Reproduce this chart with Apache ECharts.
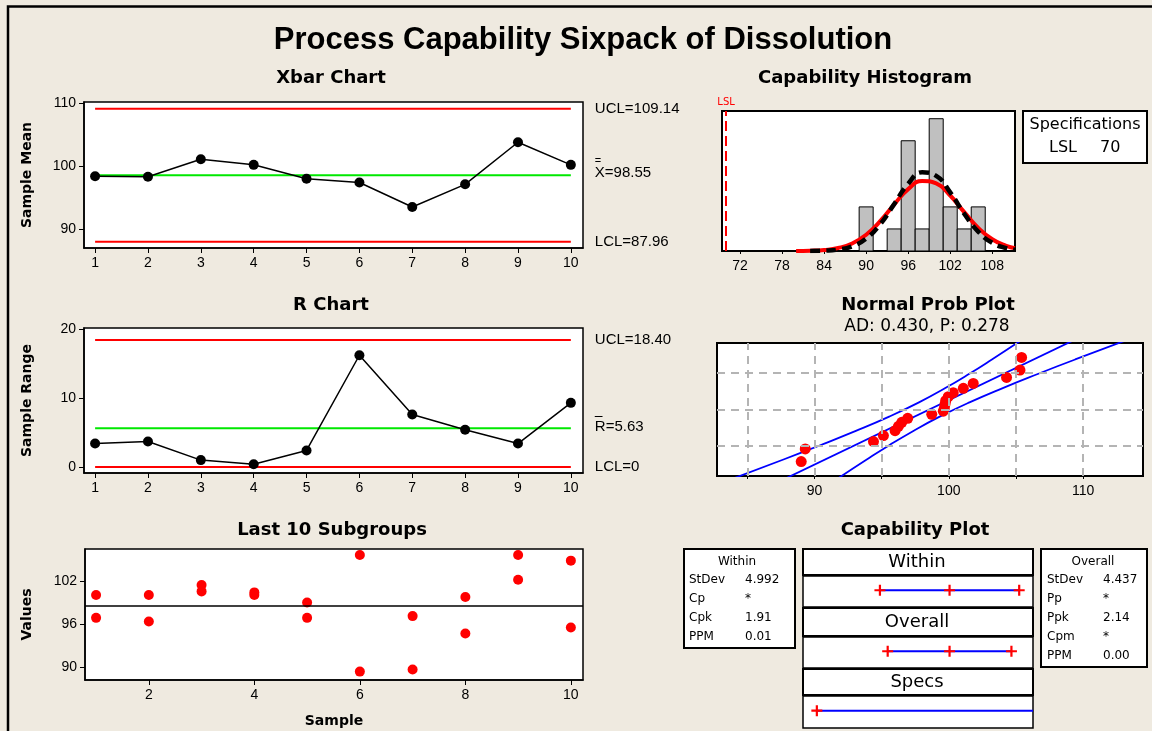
<!DOCTYPE html>
<html>
<head>
<meta charset="utf-8">
<title>Process Capability Sixpack</title>
<script src="https://cdn.jsdelivr.net/npm/echarts@6/dist/echarts.min.js"></script>
<style>html,body{margin:0;padding:0;background:#EFEAE0;}</style>
</head>
<body>
<div id="main" style="width:1152px;height:731px;"></div>
<script>
// data
var samples = [1, 2, 3, 4, 5, 6, 7, 8, 9, 10];
var evenSamples = [2, 4, 6, 8, 10];
var xbarValues = [98.4, 98.3, 101.1, 100.2, 98.0, 97.4, 93.5, 97.1, 103.8, 100.2];
var xbarLimits = [109.14, 98.55, 87.96];   // UCL, Xbarbar, LCL
var rValues = [3.4, 3.7, 1.0, 0.4, 2.4, 16.2, 7.6, 5.4, 3.4, 9.3];
var rLimits = [18.40, 5.63, 0];            // UCL, Rbar, LCL
var subgroupHigh = [100.05, 100.05, 101.44, 100.42, 99.02, 105.63, 97.12, 99.77, 105.63, 104.84];
var subgroupLow = [96.88, 96.37, 100.56, 100.05, 96.88, 89.40, 89.68, 94.70, 102.19, 95.54];

var histBinLow = [89, 91, 93, 95, 97, 99, 101, 103, 105];
var histBinHigh = [91, 93, 95, 97, 99, 101, 103, 105, 107];
var histCounts = [2, 0, 1, 5, 1, 6, 2, 1, 2];
var histTicks = [72, 78, 84, 90, 96, 102, 108];
var withinCurveX = [80, 82, 84, 86, 88, 90, 92, 94, 96, 98, 100, 102, 104, 106, 108, 110, 111.25];
var withinCurveY = [0.003, 0.013, 0.046, 0.136, 0.343, 0.737, 1.352, 2.110, 2.806, 3.178, 3.065, 2.518, 1.761, 1.050, 0.533, 0.230, 0.126];
var overallCurveX = [82, 84, 86, 88, 90, 92, 94, 96, 98, 100, 102, 104, 106, 108, 110, 111.25];
var overallCurveY = [0.003, 0.017, 0.066, 0.213, 0.562, 1.210, 2.126, 3.050, 3.569, 3.410, 2.659, 1.692, 0.878, 0.372, 0.129, 0.060];
var lsl = 70;

var probX = [89.01, 89.31, 94.39, 95.13, 96.00, 96.25, 96.50, 96.94, 98.73, 99.59, 99.67, 99.72, 99.77, 99.96, 100.33, 101.08, 101.82, 104.30, 105.30, 105.42];
var probZ = [-1.82, -1.38, -1.12, -0.91, -0.74, -0.59, -0.45, -0.31, -0.17, -0.06, 0.06, 0.19, 0.31, 0.45, 0.59, 0.74, 0.91, 1.12, 1.38, 1.82];
var bandZ = [-2.4, -1.75, -1.25, -0.75, -0.25, 0.25, 0.75, 1.25, 1.75, 2.4];
var bandLeft = [84.02, 87.69, 90.43, 93.08, 95.56, 97.78, 99.74, 101.53, 103.21, 105.32];
var bandRight = [91.78, 93.89, 95.57, 97.36, 99.32, 101.54, 104.02, 106.67, 109.41, 113.08];
var fitX = [87.90, 109.20];
var fitZ = [-2.4, 2.4];
var probGridX = [85, 90, 95, 100, 105, 110];
var probGridZ = [-1.28, 0, 1.28];
var probTicks = [90, 100, 110];

var withinSpan = [83.57, 98.55, 113.53];
var overallSpan = [85.24, 98.55, 111.86];
var withinStatNames = ['StDev', 'Cp', 'Cpk', 'PPM'];
var withinStatValues = ['4.992', '*', '1.91', '0.01'];
var overallStatNames = ['StDev', 'Pp', 'Ppk', 'Cpm', 'PPM'];
var overallStatValues = ['4.437', '*', '2.14', '*', '0.00'];

var chart = echarts.init(document.getElementById('main'));

var tickLabel = {fontFamily: 'Liberation Sans', fontSize: 14, color: '#000', margin: 8};
var axisName = {fontFamily: 'DejaVu Sans', fontWeight: 'bold', fontSize: 14, color: '#000'};
var blackLine = {onZero: false, lineStyle: {color: '#000', width: 1.5}};
var crossSymbol = 'path://M4,0 H6 V4 H10 V6 H6 V10 H4 V6 H0 V4 H4 Z';

function pairs(xs, ys) {
    return xs.map(function (x, i) { return [x, ys[i]]; });
}

function valAxis(grid, min, max, ticks, opt) {
    var a = {
        type: 'value', gridIndex: grid, min: min, max: max,
        axisLine: blackLine,
        axisTick: {show: true, customValues: ticks, length: 5, lineStyle: {color: '#000'}},
        axisLabel: Object.assign({customValues: ticks}, tickLabel),
        splitLine: {show: false}
    };
    return Object.assign(a, opt || {});
}

function hiddenAxis(grid, min, max) {
    return {type: 'value', gridIndex: grid, min: min, max: max, show: false, axisLine: {onZero: false}, splitLine: {show: false}};
}

function limitSeries(xi, yi, value, color, label, offsetY) {
    return {
        type: 'line', xAxisIndex: xi, yAxisIndex: yi, z: 1,
        data: [[1, value], [10, value]],
        symbol: 'none', silent: true,
        lineStyle: {color: color, width: 2},
        endLabel: {
            show: true, formatter: label, distance: 24, offset: [0, offsetY || 0],
            fontFamily: 'Liberation Sans', fontSize: 15, color: '#000',
            rich: {
                o: {fontFamily: 'Liberation Sans', fontSize: 11, lineHeight: 7, color: '#000'},
                d: {fontFamily: 'Liberation Sans', fontSize: 14, lineHeight: 7, color: '#000'},
                t: {fontFamily: 'Liberation Sans', fontSize: 15, lineHeight: 16, color: '#000'}
            }
        }
    };
}

var grids = [
    {left: 84, top: 102, width: 499, height: 146},   // xbar
    {left: 84, top: 328, width: 499, height: 145},   // R
    {left: 85, top: 549, width: 498, height: 131},   // last 10
    {left: 722, top: 111, width: 293, height: 140},  // histogram
    {left: 717, top: 343, width: 426, height: 133},  // normal prob
    {left: 803, top: 576, width: 230, height: 31},   // within band
    {left: 803, top: 637, width: 230, height: 31},   // overall band
    {left: 803, top: 696, width: 230, height: 32}    // specs band
].map(function (g) {
    return Object.assign({show: true, backgroundColor: '#fff', borderColor: '#000', borderWidth: 1.5, containLabel: false}, g);
});
grids[3].borderWidth = 2;
grids[4].borderWidth = 2;

var capMin = 67.02, capMax = 116.5, bandLevel = 0.54;

var xAxes = [
    valAxis(0, 0.79, 10.23, samples),
    valAxis(1, 0.79, 10.23, samples),
    valAxis(2, 0.79, 10.23, evenSamples, {name: 'Sample', nameLocation: 'middle', nameGap: 34, nameTextStyle: axisName}),
    valAxis(3, 69.42, 111.25, histTicks, {axisTick: {show: true, customValues: histTicks, length: 3, lineStyle: {color: '#000'}}}),
    valAxis(4, 82.74, 114.46, probTicks, {axisTick: {show: true, customValues: probGridX, length: 3, lineStyle: {color: '#000'}}}),
    hiddenAxis(5, capMin, capMax),
    hiddenAxis(6, capMin, capMax),
    hiddenAxis(7, capMin, capMax)
];

var yAxes = [
    valAxis(0, 86.97, 110.2, [90, 100, 110], {name: 'Sample Mean', nameLocation: 'middle', nameGap: 50, nameTextStyle: axisName}),
    valAxis(1, -0.87, 20.15, [0, 10, 20], {name: 'Sample Range', nameLocation: 'middle', nameGap: 50, nameTextStyle: axisName}),
    valAxis(2, 88.23, 106.46, [90, 96, 102], {name: 'Values', nameLocation: 'middle', nameGap: 51, nameTextStyle: axisName}),
    {type: 'value', gridIndex: 3, min: 0, max: 6.35, axisLine: blackLine, axisTick: {show: false}, axisLabel: {show: false}, splitLine: {show: false}},
    {type: 'value', gridIndex: 4, min: -2.326, max: 2.326, axisLine: blackLine, axisTick: {show: false}, axisLabel: {show: false}, splitLine: {show: false}},
    hiddenAxis(5, 0, 1),
    hiddenAxis(6, 0, 1),
    hiddenAxis(7, 0, 1)
];

var gridLineStyle = {color: '#B4B4B4', width: 2, type: [8, 6]};

var series = [
    // Xbar chart
    limitSeries(0, 0, xbarLimits[0], '#FF0000', 'UCL=' + xbarLimits[0].toFixed(2)),
    limitSeries(0, 0, xbarLimits[1], '#00E800', '{o|=}\n{t|X=' + xbarLimits[1].toFixed(2) + '}', -6),
    limitSeries(0, 0, xbarLimits[2], '#FF0000', 'LCL=' + xbarLimits[2].toFixed(2)),
    {
        type: 'line', xAxisIndex: 0, yAxisIndex: 0, z: 3,
        data: pairs(samples, xbarValues),
        symbol: 'circle', symbolSize: 10,
        itemStyle: {color: '#000'}, lineStyle: {color: '#000', width: 1.5}
    },
    // R chart
    limitSeries(1, 1, rLimits[0], '#FF0000', 'UCL=' + rLimits[0].toFixed(2)),
    limitSeries(1, 1, rLimits[1], '#00E800', '{d|\u2013}\n{t|R=' + rLimits[1].toFixed(2) + '}', -4.5),
    limitSeries(1, 1, rLimits[2], '#FF0000', 'LCL=' + rLimits[2]),
    {
        type: 'line', xAxisIndex: 1, yAxisIndex: 1, z: 3,
        data: pairs(samples, rValues),
        symbol: 'circle', symbolSize: 10,
        itemStyle: {color: '#000'}, lineStyle: {color: '#000', width: 1.5}
    },
    // last 10 subgroups
    {
        type: 'scatter', xAxisIndex: 2, yAxisIndex: 2, z: 3,
        data: pairs(samples, subgroupHigh).concat(pairs(samples, subgroupLow)),
        symbolSize: 10, itemStyle: {color: '#FF0000', opacity: 1},
        markLine: {
            silent: true, symbol: ['none', 'none'], label: {show: false},
            lineStyle: {color: '#000', width: 1.5, type: 'solid'},
            data: [{yAxis: xbarLimits[1]}]
        }
    },
    // capability histogram
    {
        type: 'custom', xAxisIndex: 3, yAxisIndex: 3, z: 1,
        data: histBinLow.map(function (lo, i) { return [lo, histBinHigh[i], histCounts[i]]; }),
        encode: {x: [0, 1], y: 2},
        renderItem: function (params, api) {
            var p0 = api.coord([api.value(0), api.value(2)]);
            var p1 = api.coord([api.value(1), 0]);
            return {
                type: 'rect',
                shape: {x: p0[0], y: p0[1], width: p1[0] - p0[0], height: p1[1] - p0[1]},
                style: {fill: '#C0C0C0', stroke: '#000', lineWidth: 1}
            };
        },
        markLine: {
            silent: true, symbol: ['none', 'none'],
            lineStyle: {color: '#FF0000', width: 2, type: [10, 5]},
            label: {show: true, position: 'end', formatter: 'LSL', color: '#FF0000', fontSize: 10, fontFamily: 'DejaVu Sans', distance: 4},
            data: [{xAxis: lsl}]
        }
    },
    {
        type: 'line', xAxisIndex: 3, yAxisIndex: 3, z: 2, smooth: true,
        data: pairs(withinCurveX, withinCurveY), symbol: 'none',
        lineStyle: {color: '#FF0000', width: 4}
    },
    {
        type: 'line', xAxisIndex: 3, yAxisIndex: 3, z: 3, smooth: true,
        data: pairs(overallCurveX, overallCurveY), symbol: 'none',
        lineStyle: {color: '#000', width: 4.5, type: [10, 6]}
    },
    // normal probability plot
    {
        type: 'line', xAxisIndex: 4, yAxisIndex: 4, z: 2, smooth: true,
        data: pairs(bandLeft, bandZ), symbol: 'none',
        lineStyle: {color: '#0000FF', width: 1.8},
        markLine: {
            silent: true, symbol: ['none', 'none'], label: {show: false},
            lineStyle: gridLineStyle,
            data: probGridX.map(function (v) { return {xAxis: v}; })
                .concat(probGridZ.map(function (v) { return {yAxis: v}; }))
        }
    },
    {
        type: 'line', xAxisIndex: 4, yAxisIndex: 4, z: 2, smooth: true,
        data: pairs(bandRight, bandZ), symbol: 'none',
        lineStyle: {color: '#0000FF', width: 1.8}
    },
    {
        type: 'line', xAxisIndex: 4, yAxisIndex: 4, z: 2,
        data: pairs(fitX, fitZ), symbol: 'none',
        lineStyle: {color: '#0000FF', width: 1.8}
    },
    {
        type: 'scatter', xAxisIndex: 4, yAxisIndex: 4, z: 4,
        data: pairs(probX, probZ), symbolSize: 11,
        itemStyle: {color: '#FF0000', opacity: 1}
    },
    // capability plot
    {
        type: 'line', xAxisIndex: 5, yAxisIndex: 5,
        data: withinSpan.map(function (v) { return [v, bandLevel]; }),
        symbol: crossSymbol, symbolSize: 11,
        itemStyle: {color: '#FF0000'}, lineStyle: {color: '#0000FF', width: 2}
    },
    {
        type: 'line', xAxisIndex: 6, yAxisIndex: 6,
        data: overallSpan.map(function (v) { return [v, bandLevel]; }),
        symbol: crossSymbol, symbolSize: 11,
        itemStyle: {color: '#FF0000'}, lineStyle: {color: '#0000FF', width: 2}
    },
    {
        type: 'line', xAxisIndex: 7, yAxisIndex: 7,
        data: [{value: [lsl, bandLevel]}, {value: [capMax, bandLevel], symbol: 'none'}],
        symbol: crossSymbol, symbolSize: 11,
        itemStyle: {color: '#FF0000'}, lineStyle: {color: '#0000FF', width: 2}
    }
];

// texts and boxes
function txt(text, x, y, font, align, color) {
    return {
        type: 'text', z: 10, silent: true,
        style: {
            text: text, x: x, y: y, font: font, fill: color || '#000',
            textAlign: align || 'center', align: align || 'center',
            textVerticalAlign: 'middle', verticalAlign: 'middle'
        }
    };
}
function box(x, y, w, h, lw) {
    return {
        type: 'rect', z: 5, silent: true,
        shape: {x: x, y: y, width: w, height: h},
        style: {fill: '#fff', stroke: '#000', lineWidth: lw || 2}
    };
}

var subTitle = 'bold 18px "DejaVu Sans"';
var statFont = '12px "DejaVu Sans"';
var gfx = [
    {type: 'polyline', silent: true, shape: {points: [[8, 731], [8, 6.5], [1152, 6.5]]}, style: {stroke: '#000', lineWidth: 2.5, fill: null}},
    txt('Process Capability Sixpack of Dissolution', 583, 40, 'bold 31px "Liberation Sans"'),
    txt('Xbar Chart', 331, 78, subTitle),
    txt('R Chart', 331, 305, subTitle),
    txt('Last 10 Subgroups', 332, 530, subTitle),
    txt('Capability Histogram', 865, 78, subTitle),
    txt('Normal Prob Plot', 928, 305, subTitle),
    txt('AD: 0.430, P: 0.278', 927, 327, '17px "DejaVu Sans"'),
    txt('Capability Plot', 915, 530, subTitle),
    box(1023, 111, 124, 52),
    txt('Specifications', 1085, 125, '16px "DejaVu Sans"'),
    txt('LSL', 1049, 148, '16px "DejaVu Sans"', 'left'),
    txt(String(lsl), 1100, 148, '16px "DejaVu Sans"', 'left'),
    box(803, 549, 230, 26),
    txt('Within', 917, 562, '18px "DejaVu Sans"'),
    box(803, 608, 230, 28),
    txt('Overall', 917, 622, '18px "DejaVu Sans"'),
    box(803, 669, 230, 26),
    txt('Specs', 917, 682, '18px "DejaVu Sans"'),
    box(684, 549, 111, 99),
    txt('Within', 737, 562, statFont),
    box(1041, 549, 106, 118),
    txt('Overall', 1093, 562, statFont)
];
withinStatNames.forEach(function (n, i) {
    gfx.push(txt(n, 689, 579.5 + 19.2 * i, statFont, 'left'));
    gfx.push(txt(withinStatValues[i], 745, 579.5 + 19.2 * i, statFont, 'left'));
});
overallStatNames.forEach(function (n, i) {
    gfx.push(txt(n, 1047, 579.5 + 19.2 * i, statFont, 'left'));
    gfx.push(txt(overallStatValues[i], 1103, 579.5 + 19.2 * i, statFont, 'left'));
});

chart.setOption({
    backgroundColor: '#EFEAE0',
    animation: false,
    grid: grids,
    xAxis: xAxes,
    yAxis: yAxes,
    series: series,
    graphic: gfx
});
</script>
</body>
</html>
